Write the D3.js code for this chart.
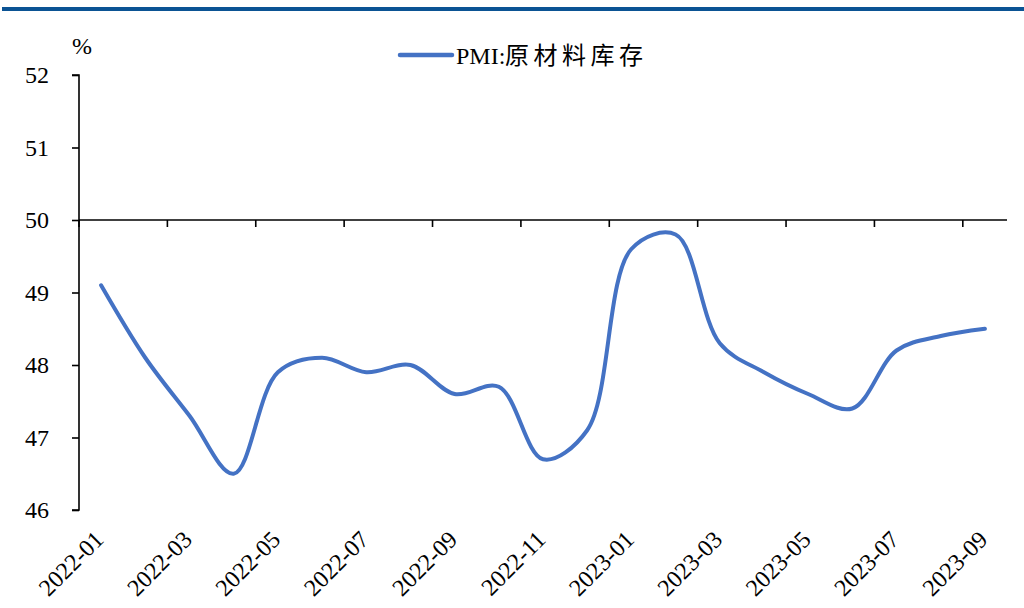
<!DOCTYPE html>
<html>
<head>
<meta charset="utf-8">
<script src="https://cdn.jsdelivr.net/npm/d3@7"></script>
<style>
  body { margin: 0; background: #fff; }
  text { font-family: "Liberation Serif", "Noto Sans CJK SC", serif; fill: #000; }
</style>
</head>
<body>
<script>
// data
const months = ["2022-01","2022-02","2022-03","2022-04","2022-05","2022-06","2022-07",
  "2022-08","2022-09","2022-10","2022-11","2022-12","2023-01","2023-02","2023-03",
  "2023-04","2023-05","2023-06","2023-07","2023-08","2023-09"];
const inventory = [49.1, 48.1, 47.3, 46.5, 47.9, 48.1, 47.9, 48.0, 47.6, 47.7, 46.7,
  47.1, 49.6, 49.8, 48.3, 47.9, 47.6, 47.4, 48.2, 48.4, 48.5];
const yTicks = [46, 47, 48, 49, 50, 51, 52];
const seriesPrefix = "PMI:";
const seriesLabel = "原材料库存";

const W = 1024, H = 608;
const serif = "'Liberation Serif', 'Noto Sans CJK SC', serif";
const svg = d3.select("body").append("svg")
  .attr("width", W).attr("height", H);

// top bar
svg.append("rect")
  .attr("x", 2).attr("y", 7).attr("width", W - 2).attr("height", 4)
  .attr("fill", "#0b5394");

const x = d3.scaleBand().domain(months).range([79, 1007]);
const y = d3.scaleLinear().domain([46, 52]).range([510, 75]);

// y axis
const yAxis = svg.append("g").attr("transform", "translate(79,0)")
  .call(d3.axisLeft(y).tickValues(yTicks).tickSize(7).tickPadding(23).tickFormat(d3.format("d")))
  .attr("font-family", serif);
yAxis.select(".domain").attr("d", `M-7,${y(52)}H0V${y(46)}H-7`).attr("stroke-width", 1.6);
yAxis.selectAll(".tick line").attr("stroke-width", 1.6);
yAxis.selectAll(".tick text").attr("font-size", 24).attr("fill", "#000");

// x axis at 50
const xTickVals = months.filter((d, i) => i % 2 === 0);
const xg = svg.append("g").attr("transform", `translate(0,${y(50)})`);
xg.append("line")
  .attr("x1", x.range()[0]).attr("x2", x.range()[1])
  .attr("stroke", "#000").attr("stroke-width", 1.6);
xg.selectAll("line.tk").data(xTickVals).join("line").attr("class", "tk")
  .attr("x1", d => x(d)).attr("x2", d => x(d))
  .attr("y1", 0).attr("y2", 7)
  .attr("stroke", "#000").attr("stroke-width", 1.6);

// x labels at bottom
svg.selectAll("text.xl").data(xTickVals).join("text").attr("class", "xl")
  .attr("transform", d => `translate(${x(d) + x.bandwidth() / 2 + 4},541) rotate(-45)`)
  .attr("text-anchor", "end")
  .attr("font-family", serif)
  .attr("font-size", 24)
  .text(d => d);

// line
const line = d3.line()
  .x((d, i) => x(months[i]) + x.bandwidth() / 2)
  .y(d => y(d))
  .curve(d3.curveCatmullRom.alpha(0.5));
svg.append("path").datum(inventory)
  .attr("d", line)
  .attr("fill", "none")
  .attr("stroke", "#4472c4")
  .attr("stroke-width", 4)
  .attr("stroke-linecap", "round");

// unit
svg.append("text").attr("x", 82).attr("y", 54).attr("text-anchor", "middle")
  .attr("font-family", serif).attr("font-size", 24).text("%");

// legend
svg.append("line").attr("x1", 400).attr("x2", 452).attr("y1", 55).attr("y2", 55)
  .attr("stroke", "#4472c4").attr("stroke-width", 4.5).attr("stroke-linecap", "round");
const leg = svg.append("text").attr("x", 456).attr("y", 64).attr("font-size", 24)
  .attr("font-family", serif);
leg.append("tspan").text(seriesPrefix);
leg.append("tspan").attr("x", 505).attr("textLength", 138).attr("lengthAdjust", "spacing")
  .text(seriesLabel);
</script>
</body>
</html>
